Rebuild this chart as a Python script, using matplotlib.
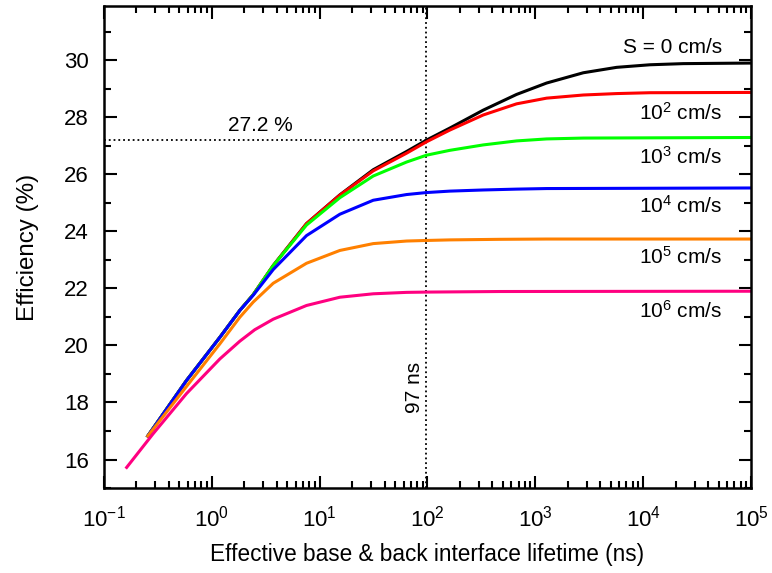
import matplotlib
matplotlib.use("Agg")
import matplotlib.pyplot as plt
from matplotlib.ticker import LogLocator, MultipleLocator, NullFormatter, FixedLocator, LogFormatterSciNotation

plt.rcParams['font.family'] = ['Liberation Sans', 'DejaVu Sans']
plt.rcParams['mathtext.fontset'] = 'custom'
plt.rcParams['mathtext.rm'] = 'Liberation Sans'
plt.rcParams['mathtext.it'] = 'Liberation Sans:italic'

# ---- data (lifetime in ns, efficiency in %) ----
x_s0 = [0.25, 0.582, 1.19, 1.82, 2.42, 3.71, 7.55, 15.4, 31.4, 64, 98, 161, 329, 670, 1273, 2786, 5680, 11560, 23560, 1e5]
y_s0 = [16.78, 18.77, 20.29, 21.23, 21.78, 22.8, 24.27, 25.28, 26.16, 26.8, 27.2, 27.62, 28.25, 28.8, 29.2, 29.56, 29.75, 29.84, 29.88, 29.9]

x_s2 = [0.25, 0.582, 1.19, 1.82, 2.42, 3.71, 7.55, 15.4, 31.4, 64, 98, 161, 329, 670, 1273, 2786, 5680, 11560, 1e5]
y_s2 = [16.78, 18.77, 20.29, 21.23, 21.78, 22.8, 24.27, 25.27, 26.12, 26.74, 27.14, 27.55, 28.08, 28.47, 28.67, 28.78, 28.83, 28.86, 28.87]

x_s3 = [0.25, 0.582, 1.19, 1.82, 2.42, 3.71, 7.55, 15.4, 31.4, 64, 98, 161, 329, 670, 1273, 2786, 1e5]
y_s3 = [16.78, 18.77, 20.29, 21.23, 21.78, 22.8, 24.22, 25.18, 25.94, 26.43, 26.67, 26.84, 27.03, 27.17, 27.24, 27.27, 27.29]

x_s4 = [0.25, 0.582, 1.19, 1.82, 2.42, 3.71, 7.55, 15.4, 31.4, 64, 98, 161, 329, 670, 1273, 1e5]
y_s4 = [16.78, 18.77, 20.29, 21.23, 21.76, 22.66, 23.85, 24.6, 25.09, 25.29, 25.36, 25.41, 25.45, 25.48, 25.50, 25.52]

x_s5 = [0.25, 0.582, 1.19, 1.82, 2.42, 3.71, 7.55, 15.4, 31.4, 64, 98, 161, 468, 1273, 1e5]
y_s5 = [16.78, 18.56, 20.06, 20.99, 21.52, 22.18, 22.88, 23.33, 23.57, 23.66, 23.68, 23.70, 23.72, 23.73, 23.73]

x_s6 = [0.159, 0.285, 0.582, 1.19, 1.82, 2.5, 3.71, 7.55, 15.4, 31.4, 64, 98, 468, 1e5]
y_s6 = [15.68, 16.9, 18.31, 19.53, 20.15, 20.55, 20.92, 21.4, 21.69, 21.81, 21.86, 21.87, 21.89, 21.9]

x_ticks = [1e-1, 1e0, 1e1, 1e2, 1e3, 1e4, 1e5]

series = [
    (x_s0, y_s0, '#000000'),
    (x_s2, y_s2, '#ff0000'),
    (x_s3, y_s3, '#00ff00'),
    (x_s4, y_s4, '#0000ff'),
    (x_s5, y_s5, '#ff8000'),
    (x_s6, y_s6, '#ff0080'),
]

labels = ['S = 0 cm/s', r'10$^{2}$ cm/s', r'10$^{3}$ cm/s', r'10$^{4}$ cm/s', r'10$^{5}$ cm/s', r'10$^{6}$ cm/s']
label_y = [30.44, 28.16, 26.6, 24.88, 23.09, 21.2]

tau_mark = 97
eff_mark = 27.2

fig = plt.figure(figsize=(7.72, 5.73), dpi=100)
ax = fig.add_axes([0.1347, 0.1483, 0.9728 - 0.1347, 0.9895 - 0.1483])

ax.plot([0.1, tau_mark], [eff_mark, eff_mark], color='black', linestyle=':', linewidth=1.3)
ax.plot([tau_mark, tau_mark], [15, 32], color='black', linestyle=':', linewidth=1.3)

for xs, ys, c in series:
    ax.plot(xs, ys, color=c, linewidth=2.2, solid_capstyle='butt', solid_joinstyle='round')

ax.set_xscale('log')
ax.set_xlim(0.1, 1e5)
ax.set_ylim(15, 31.9)

ax.xaxis.set_major_locator(FixedLocator(x_ticks))
ax.xaxis.set_major_formatter(LogFormatterSciNotation())
ax.xaxis.set_minor_locator(LogLocator(base=10, subs=range(2, 10), numticks=20))
ax.xaxis.set_minor_formatter(NullFormatter())
ax.yaxis.set_major_locator(MultipleLocator(2))
ax.yaxis.set_minor_locator(MultipleLocator(1))

ax.tick_params(which='both', direction='in', top=True, right=True, width=1.5, labelsize=16)
ax.tick_params(which='major', length=9)
ax.tick_params(which='minor', length=5)
ax.tick_params(axis='x', which='major', pad=13)
ax.tick_params(axis='y', which='major', pad=11)
for sp in ax.spines.values():
    sp.set_linewidth(1.8)

ax.set_xlabel('Effective base & back interface lifetime (ns)', fontsize=16.3, labelpad=8)
ax.set_ylabel('Efficiency (%)', fontsize=17.4, labelpad=18)

for t, yv in zip(labels, label_y):
    ax.text(10**4.73, yv, t, ha='right', va='center', fontsize=15)

ax.text(2.79, 27.72, '27.2 %', ha='center', va='center', fontsize=15)
ax.text(76, 18.53, '97 ns', ha='center', va='center', rotation=90, fontsize=15)

fig.savefig('out.png', dpi=100)
